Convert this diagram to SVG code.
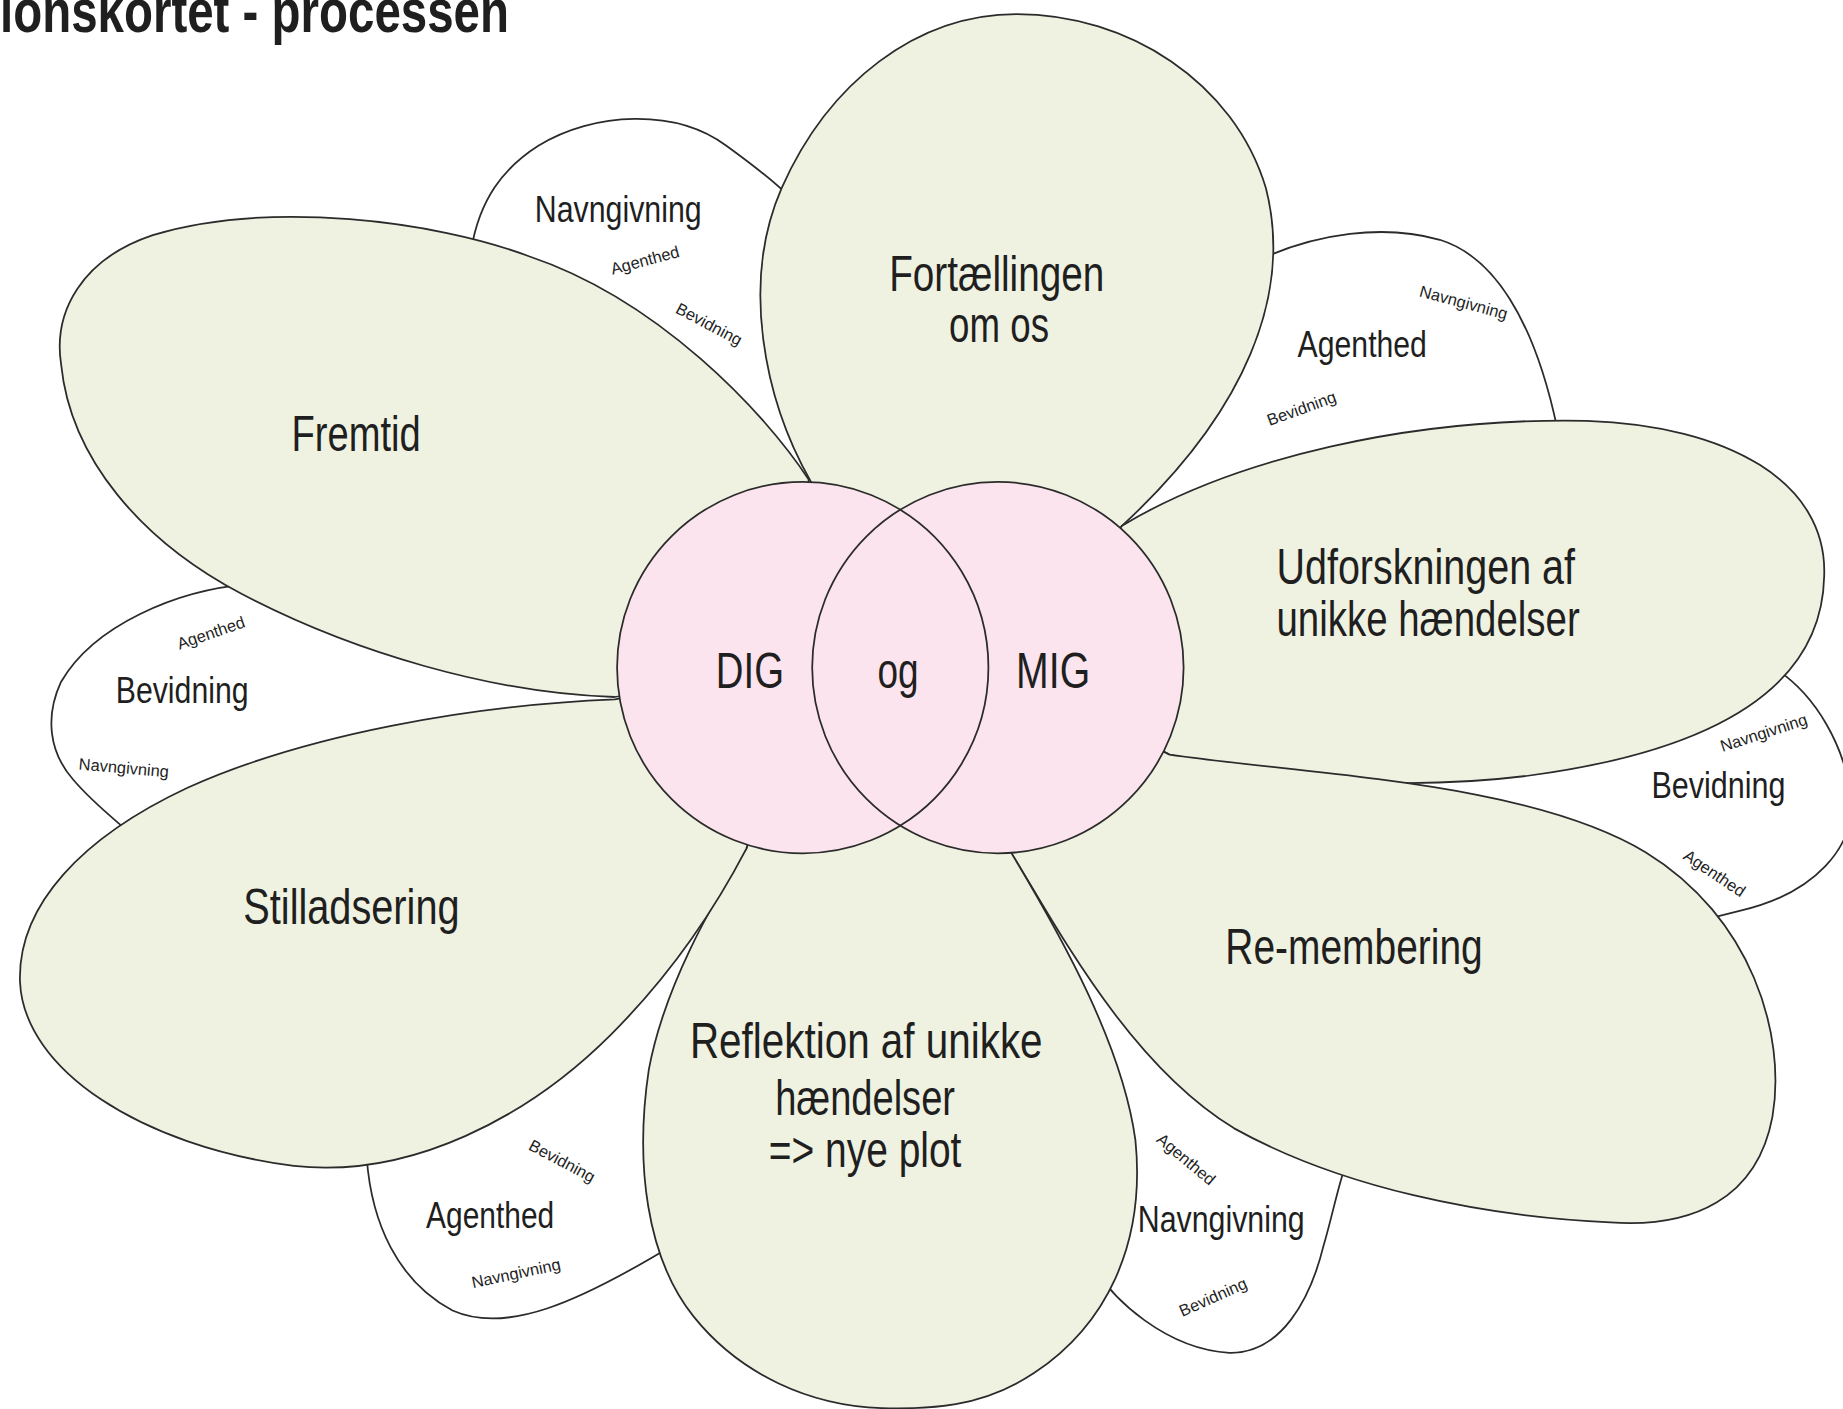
<svg xmlns="http://www.w3.org/2000/svg" width="1843" height="1409" viewBox="0 0 1843 1409">
<style>
.petal{fill:#eff2e1;stroke:#2b2b2b;stroke-width:1.5;stroke-linejoin:round}
.leaf{fill:none;stroke:#2b2b2b;stroke-width:1.5;stroke-linecap:round}
.pink{fill:#fce4ee}
.ring{fill:none;stroke:#2b2b2b;stroke-width:1.5}
text{font-family:"Liberation Sans","DejaVu Sans",sans-serif;fill:#1f1f1f;text-anchor:middle}
.lbl{font-size:42px}
.sub{font-size:32px}
.tiny{font-size:14px}
.title{font-size:52px;font-weight:bold;text-anchor:start}
</style>
<rect width="1843" height="1409" fill="#ffffff"/>
<g transform="scale(1.17538)">
<text class="title" x="0" y="27" textLength="433" lengthAdjust="spacingAndGlyphs">ionskortet - processen</text>

<!-- white side petals -->
<g id="side-top-left">
<path class="leaf" d="M401,212 C408,170 428,143 458,124 C505,95 575,92 618,124 C640,140 660,155 672,168"/>
<text class="sub" x="526" y="189" textLength="142" lengthAdjust="spacingAndGlyphs">Navngivning</text>
<text class="tiny" transform="translate(550,226) rotate(-15)">Agenthed</text>
<text class="tiny" transform="translate(601,280) rotate(28)">Bevidning</text>
</g>
<g id="side-top-right">
<path class="leaf" d="M1078,218 C1120,200 1175,190 1225,204 C1270,218 1305,270 1325,365"/>
<text class="sub" x="1159" y="304" textLength="110" lengthAdjust="spacingAndGlyphs">Agenthed</text>
<text class="tiny" transform="translate(1244,262) rotate(15)">Navngivning</text>
<text class="tiny" transform="translate(1109,352) rotate(-20)">Bevidning</text>
</g>
<g id="side-left">
<path class="leaf" d="M212,497 C150,502 80,532 52,580 C38,610 42,640 62,663 C78,682 95,695 112,710"/>
<text class="sub" x="155" y="598" textLength="113" lengthAdjust="spacingAndGlyphs">Bevidning</text>
<text class="tiny" transform="translate(181,543) rotate(-19)">Agenthed</text>
<text class="tiny" transform="translate(105,658) rotate(5)">Navngivning</text>
</g>
<g id="side-right">
<path class="leaf" d="M1512,570 C1545,592 1570,635 1575,680 C1578,720 1545,760 1480,775 L1452,782"/>
<text class="sub" x="1462" y="679" textLength="114" lengthAdjust="spacingAndGlyphs">Bevidning</text>
<text class="tiny" transform="translate(1502,628) rotate(-18)">Navngivning</text>
<text class="tiny" transform="translate(1456,747) rotate(34)">Agenthed</text>
</g>
<g id="side-bottom-left">
<path class="leaf" d="M312,985 C316,1040 338,1090 385,1115 C430,1135 490,1110 578,1056"/>
<text class="sub" x="417" y="1045" textLength="109" lengthAdjust="spacingAndGlyphs">Agenthed</text>
<text class="tiny" transform="translate(476,992) rotate(28)">Bevidning</text>
<text class="tiny" transform="translate(440,1088) rotate(-12)">Navngivning</text>
</g>
<g id="side-bottom-right">
<path class="leaf" d="M925,1068 C945,1108 995,1148 1046,1151 C1090,1152 1115,1105 1126,1060 C1132,1040 1136,1020 1142,1000"/>
<text class="sub" x="1039" y="1048" textLength="142" lengthAdjust="spacingAndGlyphs">Navngivning</text>
<text class="tiny" transform="translate(1006,990) rotate(40)">Agenthed</text>
<text class="tiny" transform="translate(1034,1108) rotate(-24)">Bevidning</text>
</g>

<!-- green petals -->
<g id="petal-fortaellingen">
<path class="petal" d="M690,410 C650,340 630,240 665,160 C705,70 780,12 865,12 C960,12 1050,70 1077,160 C1100,250 1060,350 955,447 L849,568 L683,568 Z"/>
<text class="lbl" x="848" y="248" textLength="183" lengthAdjust="spacingAndGlyphs">Fortællingen</text>
<text class="lbl" x="850" y="291" textLength="85" lengthAdjust="spacingAndGlyphs">om os</text>
</g>
<g id="petal-fremtid">
<path class="petal" d="M688,408 C650,350 560,255 450,218 C370,188 230,170 130,200 C70,220 45,265 52,310 C60,390 120,460 205,505 C300,555 420,590 523,593 L683,568 Z"/>
<text class="lbl" x="303" y="384" textLength="110" lengthAdjust="spacingAndGlyphs">Fremtid</text>
</g>
<g id="petal-udforskningen">
<path class="petal" d="M955,447 C1050,390 1200,355 1350,358 C1470,362 1555,410 1552,490 C1550,590 1450,640 1300,660 C1180,675 1060,660 995,642 L849,568 Z"/>
<text class="lbl" x="1213" y="497" textLength="254" lengthAdjust="spacingAndGlyphs">Udforskningen af</text>
<text class="lbl" x="1215" y="541" textLength="258" lengthAdjust="spacingAndGlyphs">unikke hændelser</text>
</g>
<g id="petal-remembering">
<path class="petal" d="M995,642 C1120,660 1300,665 1400,725 C1490,780 1520,880 1508,950 C1495,1020 1440,1045 1370,1040 C1260,1035 1140,1010 1050,960 C960,905 900,790 860,725 L849,568 Z"/>
<text class="lbl" x="1152" y="820" textLength="219" lengthAdjust="spacingAndGlyphs">Re-membering</text>
</g>
<g id="petal-reflektion">
<path class="petal" d="M860,725 C905,800 955,890 966,970 C975,1060 940,1128 880,1168 C835,1198 790,1199 750,1198 C690,1196 630,1170 590,1120 C550,1070 540,990 552,910 C565,840 605,770 635,722 L683,568 L849,568 Z"/>
<text class="lbl" x="737" y="900" textLength="300" lengthAdjust="spacingAndGlyphs">Reflektion af unikke</text>
<text class="lbl" x="736" y="949" textLength="153" lengthAdjust="spacingAndGlyphs">hændelser</text>
<text class="lbl" x="736" y="993" textLength="164" lengthAdjust="spacingAndGlyphs">=&gt; nye plot</text>
</g>
<g id="petal-stilladsering">
<path class="petal" d="M523,595 C400,600 260,625 160,670 C70,712 15,770 17,835 C20,910 120,975 250,992 C350,1003 450,950 520,880 C575,825 610,770 635,722 L683,568 Z"/>
<text class="lbl" x="299" y="786" textLength="184" lengthAdjust="spacingAndGlyphs">Stilladsering</text>
</g>

<!-- centre -->
<g id="node-dig">
<circle class="pink" cx="683" cy="568" r="158"/>
<circle class="ring" cx="683" cy="568" r="158"/>
</g>
<g id="node-mig">
<circle class="pink" cx="849" cy="568" r="158"/>
<circle class="ring" cx="849" cy="568" r="158"/>
</g>
<g id="node-og">
<path class="ring" d="M766,433.6 A158,158 0 0 1 766,702.4"/>
</g>
<text class="lbl" x="638" y="585" textLength="58" lengthAdjust="spacingAndGlyphs">DIG</text>
<text class="lbl" x="764" y="585" textLength="35" lengthAdjust="spacingAndGlyphs">og</text>
<text class="lbl" x="896" y="585" textLength="63" lengthAdjust="spacingAndGlyphs">MIG</text>
<g id="connectors"/>
</g>
</svg>
